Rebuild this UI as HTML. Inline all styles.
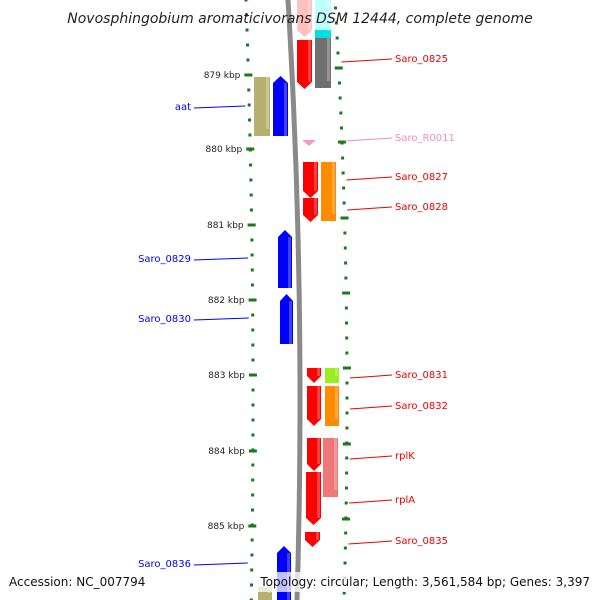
<!DOCTYPE html>
<html><head><meta charset="utf-8"><style>
body{margin:0;background:#fff;width:600px;height:600px;overflow:hidden}
svg{display:block;font-family:"DejaVu Sans","Liberation Sans",sans-serif}
</style></head><body>
<svg id="map" width="600" height="600" viewBox="0 0 600 600">
<g id="ticks"></g>
<path id="backbone" fill="none" stroke="#8a8a8a" stroke-width="5"/>
<g id="genes"></g>
<g id="labels"></g>
<text x="300" y="23" text-anchor="middle" font-size="14" font-style="italic" fill="#222">Novosphingobium aromaticivorans DSM 12444, complete genome</text>
<text x="9" y="586" font-size="12" fill="#111">Accession: NC_007794</text>
<rect x="258" y="572" width="336" height="20" fill="#fff" opacity="0.75"/>
<text x="590" y="586" text-anchor="end" font-size="12" fill="#111">Topology: circular; Length: 3,561,584 bp; Genes: 3,397</text>
</svg>
<script>
const majorKbp=[879,880,881,882,883,884,885];
const majorYLeft=[75,149,225,300,375,451,526];
const NS='http://www.w3.org/2000/svg';
function bulge(y){const t=(y-400)/400;return 1-t*t;}
function xL(y){return 246+7*bulge(y);}
function xR(y){return 335+12*bulge(y);}
function xB(y){return 288+12*bulge(y);}
function mk(tag,attrs,parent){const e=document.createElementNS(NS,tag);for(const k in attrs)e.setAttribute(k,attrs[k]);parent.appendChild(e);return e;}
let d='';for(let y=-5;y<=605;y+=5){d+=(y==-5?'M':'L')+xB(y).toFixed(1)+' '+y;}
document.getElementById('backbone').setAttribute('d',d);
const tg=document.getElementById('ticks');
for(let y=0;y<=600;y+=15){
 const l=mk('rect',{x:xL(y)-1.5,y:y-1.5,width:3,height:3,fill:'#1a7a1a'},tg);
 
 
 const r=mk('rect',{x:xR(y-7)-1.5,y:y-8.5,width:3,height:3,fill:'#1a7a1a'},tg);
 
 
}
majorKbp.forEach((k,i)=>{
 const y=majorYLeft[i];
 const m=mk('rect',{x:xL(y)-4,y:y-1.5,width:8,height:3,fill:'#1a7a1a'},tg);
 
 
 const m2=mk('rect',{x:xR(y-7)-4,y:y-8.5,width:8,height:3,fill:'#1a7a1a'},tg);
 
 
 const t=mk('text',{x:xL(y)-8,y:y+3,'text-anchor':'end','font-size':'9',fill:'#222'},tg);
 t.textContent=k+' kbp';
 
 
});
const genes=[
 [297,0,37,15,'#ffc0c0',1],[297,40,89,15,'#ff0000',1],[315,0,30,16,'#c0ffff',0],[315,30,38,16,'#00e0e0',0],[315,38,88,16,'#707070',0],
 [254,77,136,16,'#b8b070',0],[273,76,136,15,'#0000ff',-1],
 [303,162,198,15,'#ff0000',1],[303,198,222,15,'#ff0000',1],[321,162,221,15,'#ff8c00',0],
 [278,230,288,14,'#0000ff',-1],[280,294,344,13,'#0000ff',-1],
 [307,368,383,14,'#ff0000',1],[325,368,383,14,'#99ee22',0],
 [307,386,426,14,'#ff0000',1],[325,386,426,14,'#ff8c00',0],
 [307,438,471,14,'#ff0000',1],[323,438,497,15,'#ee7777',0],[306,472,525,15,'#ff0000',1],
 [305,532,547,15,'#ff0000',1],[277,546,600,14,'#0000ff',-1],[258,587,600,14,'#b8b070',0]
];
const gg=document.getElementById('genes');
genes.forEach(g=>{
 const [x,y1,y2,w,c,dir]=g;const a=7;let p;
 if(dir==1)p=[[x,y1],[x+w,y1],[x+w,y2-a],[x+w/2,y2],[x,y2-a]];
 else if(dir==-1)p=[[x,y1+a],[x+w/2,y1],[x+w,y1+a],[x+w,y2],[x,y2]];
 else p=[[x,y1],[x+w,y1],[x+w,y2],[x,y2]];
 const e=mk('polygon',{points:p.map(q=>q.join(',')).join(' '),fill:c},gg);
 
 
 const s=mk('rect',{x:x+w-4,y:y1+(dir==-1?a:0),width:3,height:y2-y1-a,fill:'#fff',opacity:0.25},gg);
 
 
});
const tri=mk('polygon',{points:'302,140 316,140 309,146',fill:'#f49ac8'},gg);


const labelNames=['Saro_0825','Saro_R0011','Saro_0827','Saro_0828','Saro_0831','Saro_0832','rplK','rplA','Saro_0835','aat','Saro_0829','Saro_0830','Saro_0836'];
const labelY=[61,140,179,209,377,408,458,502,543,108,260,320,565];
const labelSide=['r','r','r','r','r','r','r','r','r','l','l','l','l'];
const labelColor=['#e00','#f08cc0','#e00','#e00','#e00','#e00','#e00','#e00','#e00','#00f','#00f','#00f','#00f'];
const lg=document.getElementById('labels');
labelNames.forEach((n,i)=>{
 const y=labelY[i],c=labelColor[i];
 if(labelSide[i]=='r'){
  const ln=mk('line',{x1:xR(y)+3,y1:y+1,x2:392,y2:y-2,stroke:c,'stroke-width':1},lg);
  
  
  const t=mk('text',{x:395,y:y+1,'font-size':'10',fill:c},lg);t.textContent=n;
  
  
 }else{
  const ln=mk('line',{x1:194,y1:y,x2:xL(y)-4,y2:y-2,stroke:c,'stroke-width':1},lg);
  
  
  const t=mk('text',{x:191,y:y+2,'text-anchor':'end','font-size':'10',fill:c},lg);t.textContent=n;
  
  
 }
});
</script>
</body></html>
